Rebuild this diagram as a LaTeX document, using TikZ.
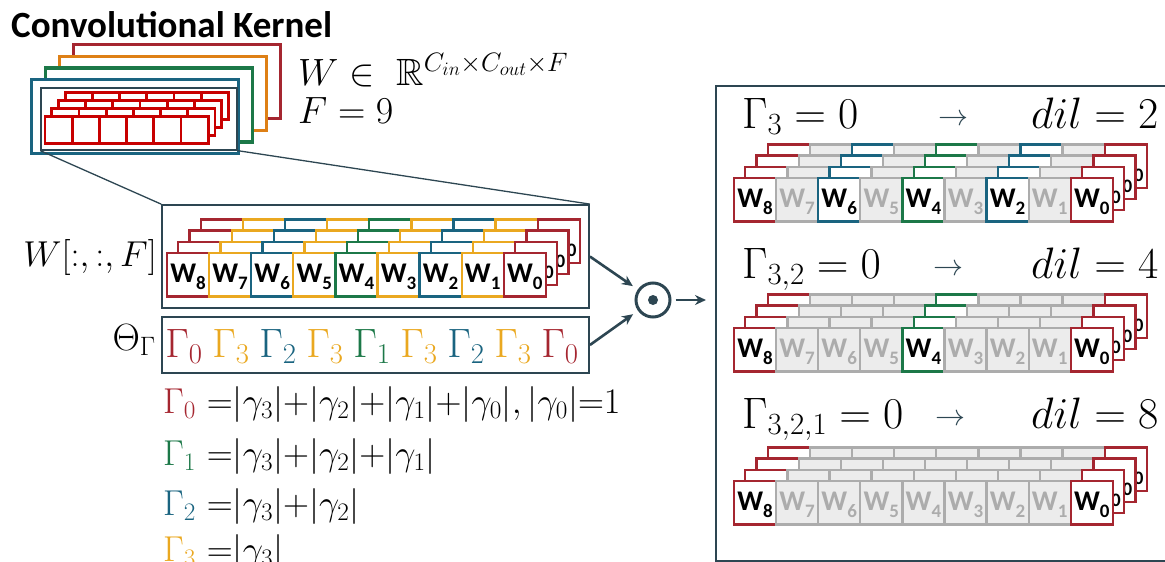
\documentclass[tikz,border=0pt]{standalone}
\usepackage{fix-cm}
\usepackage{amsmath}
\usepackage{amssymb}
\usepackage{fontspec}
\setsansfont{Carlito}
\usetikzlibrary{arrows.meta,positioning}
\definecolor{kred}{RGB}{165,38,48}
\definecolor{kbright}{RGB}{200,0,0}
\definecolor{korange}{RGB}{222,128,22}
\definecolor{kyel}{RGB}{234,168,32}
\definecolor{kgreen}{RGB}{28,120,72}
\definecolor{kteal}{RGB}{26,100,128}
\definecolor{slate}{RGB}{45,70,82}
\definecolor{offfill}{RGB}{236,236,236}
\definecolor{offline}{RGB}{172,172,172}
% cell looks: draw / fill / text
\colorlet{wred-d}{kred}\colorlet{wred-f}{white}\colorlet{wred-t}{black}
\colorlet{wyel-d}{kyel}\colorlet{wyel-f}{white}\colorlet{wyel-t}{black}
\colorlet{wteal-d}{kteal}\colorlet{wteal-f}{white}\colorlet{wteal-t}{black}
\colorlet{wgreen-d}{kgreen}\colorlet{wgreen-f}{white}\colorlet{wgreen-t}{black}
\colorlet{wgray-d}{offline}\colorlet{wgray-f}{offfill}\colorlet{wgray-t}{offline}
\newcommand{\mathsz}{\fontsize{38}{44}\selectfont}
\newcommand{\wlab}[1]{\raisebox{-8pt}[0pt][0pt]{W\raisebox{-7pt}{\fontsize{19}{19}\selectfont #1}}}
% four layers of nine cells, #1 name, #2 left, #3 top, #4 looks
\newcommand{\wstack}[4]{%
  \foreach \l in {3,2,1,0}{
    \foreach \s [count=\i from 0] in {#4}{
      \pgfmathtruncatemacro{\k}{8-\i}
      \node[wcell, draw=\s-d, fill=\s-f, text=\s-t] (#1\l-\k)
        at ({#2+21+42.1*\i+11.3*\l}, {#3+21.75-11.2*\l}) {\wlab{\k}};
    }
  }%
}

\begin{document}
\begin{tikzpicture}[
  x=1pt, y=-1pt,
  frame/.style={draw, line width=3.4pt, fill=white, minimum width=207pt, minimum height=74pt, inner sep=0pt},
  kcell/.style={draw=kbright, line width=2.8pt, fill=white, minimum width=27.2pt, minimum height=27pt, inner sep=0pt},
  wcell/.style={line width=2.3pt, minimum width=42.1pt, minimum height=43.5pt, inner sep=0pt, font=\sffamily\bfseries\fontsize{28.5}{28.5}\selectfont},
  panel/.style={draw=slate, line width=1.8pt, inner sep=0pt},
  mtext/.style={inner sep=0pt, font=\mathsz},
  big/.style={inner sep=0pt, font=\fontsize{44}{50}\selectfont},
  eqn/.style={inner sep=0pt, font=\fontsize{36}{42}\selectfont},
  arr/.style={-{Stealth[length=11pt, width=10pt]}, line width=2.6pt, draw=slate}
]
\useasboundingbox (0,0) rectangle (1165,562);
\clip (0,0) rectangle (1165,562);

% kernel
\node[anchor=base west, inner sep=0pt, font=\sffamily\bfseries\fontsize{37}{42}\selectfont] (title) at (11,37) {Convolutional Kernel};
\node[frame, draw=kred] (f3) at (177,81.5) {};
\node[frame, draw=korange] (f2) at (163,93.2) {};
\node[frame, draw=kgreen] (f1) at (149,104.8) {};
\node[frame, draw=kteal] (f0) at (135,116.5) {};
\node[draw=slate, line width=1.3pt, minimum width=196pt, minimum height=62pt, inner sep=0pt] (ki) at (139,119) {};
\foreach \l in {3,2,1,0}
  \foreach \i in {0,...,5}
    \node[kcell] (k\l-\i) at ({58.6+27.2*\i+6.7*\l}, {130-8*\l}) {};
\node[mtext, anchor=base west] (wdef) at (298,85) {$W \in\ \mathbb{R}^{C_{in}\times C_{out}\times F}$};
\node[mtext, anchor=base west] (fdef) at (298,123) {$F = 9$};

% zoomed filter slice
\node[panel, minimum width=427pt, minimum height=103pt] (m) at (375.5,256.5) {};
\draw[slate, line width=1.3pt] (ki.south west) -- (m.north west);
\draw[slate, line width=1.3pt] (ki.south east) -- (m.north east);
\wstack{m}{167}{253}{wred,wyel,wteal,wyel,wgreen,wyel,wteal,wyel,wred}
\node[eqn, anchor=base east] (wlab) at (157,266) {$W[\mathord{:},\mathord{:},F]$};

\node[panel, minimum width=427pt, minimum height=56pt] (t) at (375.5,345) {};
\node[mtext, anchor=base east] (tlab) at (156,350) {$\Theta_\Gamma$};
\foreach \c/\n [count=\i from 0] in {kred/0,kyel/3,kteal/2,kyel/3,kgreen/1,kyel/3,kteal/2,kyel/3,kred/0}
  \node[anchor=base, inner sep=0pt, font=\fontsize{41}{46}\selectfont, text=\c] (g\i) at ({184+47*\i},357) {$\Gamma_{\n}$};

\node[eqn, anchor=base west] (e0) at (163,413) {$\textcolor{kred}{\Gamma_0}\ {=}|\gamma_3|{+}|\gamma_2|{+}|\gamma_1|{+}|\gamma_0|,|\gamma_0|{=}1$};
\node[eqn, anchor=base west] (e1) at (163,465) {$\textcolor{kgreen}{\Gamma_1}\ {=}|\gamma_3|{+}|\gamma_2|{+}|\gamma_1|$};
\node[eqn, anchor=base west] (e2) at (163,515) {$\textcolor{kteal}{\Gamma_2}\ {=}|\gamma_3|{+}|\gamma_2|$};
\node[eqn, anchor=base west] (e3) at (163,561) {$\textcolor{kyel}{\Gamma_3}\ {=}|\gamma_3|$};

% product
\node[circle, draw=slate, line width=3pt, minimum size=34pt, inner sep=0pt] (dot) at (653,300) {};
\fill[slate] (dot.center) circle (5);
\draw[arr, shorten >=6pt] (m.east) -- (dot);
\draw[arr, shorten >=6pt] (t.east) -- (dot);

% dilated results
\node[panel, anchor=north west, minimum width=480pt, minimum height=475pt] (r) at (715,85) {};
\draw[arr, shorten <=4pt, shorten >=9pt] (dot.east) -- (r.west |- dot.east);

\node[big, anchor=base west] (h1) at (742,128) {$\Gamma_{3} = 0$};
\node[anchor=base, inner sep=0pt, text=slate, font=\fontsize{30}{32}\selectfont] (a1) at (953,125) {$\rightarrow$};
\node[big, anchor=base west] (d1) at (1031,128) {$dil = 2$};
\wstack{s1}{734}{178}{wred,wgray,wteal,wgray,wgreen,wgray,wteal,wgray,wred}

\node[big, anchor=base west] (h2) at (742,278) {$\Gamma_{3,2} = 0$};
\node[anchor=base, inner sep=0pt, text=slate, font=\fontsize{30}{32}\selectfont] (a2) at (948,275) {$\rightarrow$};
\node[big, anchor=base west] (d2) at (1031,278) {$dil = 4$};
\wstack{s2}{734}{328}{wred,wgray,wgray,wgray,wgreen,wgray,wgray,wgray,wred}

\node[big, anchor=base west] (h3) at (742,428) {$\Gamma_{3,2,1} = 0$};
\node[anchor=base, inner sep=0pt, text=slate, font=\fontsize{30}{32}\selectfont] (a3) at (950,425) {$\rightarrow$};
\node[big, anchor=base west] (d3) at (1031,428) {$dil = 8$};
\wstack{s3}{734}{481}{wred,wgray,wgray,wgray,wgray,wgray,wgray,wgray,wred}
\end{tikzpicture}
\end{document}
